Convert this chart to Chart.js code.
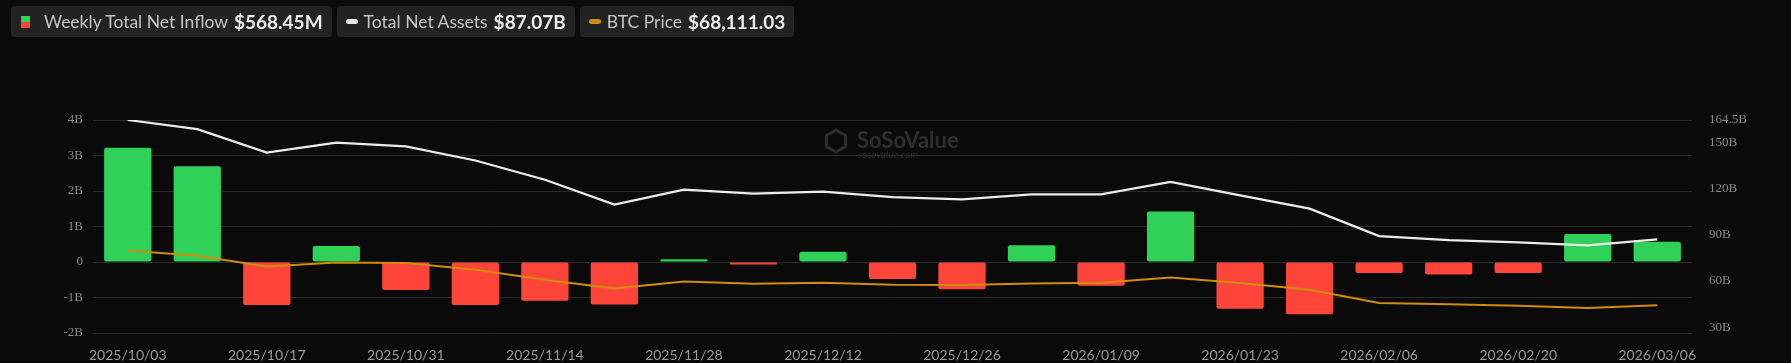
<!DOCTYPE html>
<html>
<head>
<meta charset="utf-8">
<script src="https://cdn.jsdelivr.net/npm/chart.js@4/dist/chart.umd.min.js"></script>
<style>
html, body { margin:0; padding:0; background:#0a0a0a; }
#wrap { position:relative; width:1791px; height:363px; }
#legend { position:absolute; left:11px; top:6px; display:flex; gap:5px; font-family:Lato, sans-serif; }
.item { height:31px; background:#222; border-radius:4px; padding:0 9px 0 6px; display:flex; align-items:center; white-space:nowrap; }
.item .lbl { color:#c4c4c4; font-size:17.5px; margin-right:6px; }
.item .val { color:#ececec; font-size:19px; font-weight:bold; }
.ico-flow { width:9px; height:12px; margin:0 14px 0 4px; background:linear-gradient(#30d158 50%, #ff453a 50%); }
.ico-line { width:12px; height:5px; border-radius:3px; margin:0 6px 0 3px; }
</style>
</head>
<body>
<div id="wrap">
  <canvas id="chart"></canvas>
  <div id="legend">
    <div class="item"><span class="ico-flow"></span><span class="lbl">Weekly Total Net Inflow</span><span class="val">$568.45M</span></div>
    <div class="item"><span class="ico-line" style="background:#e6e6e6"></span><span class="lbl">Total Net Assets</span><span class="val">$87.07B</span></div>
    <div class="item"><span class="ico-line" style="background:#d08c0c"></span><span class="lbl">BTC Price</span><span class="val">$68,111.03</span></div>
  </div>
</div>
<script>
// weekly dates
const weeks = ["2025/10/03","2025/10/10","2025/10/17","2025/10/24","2025/10/31","2025/11/07",
  "2025/11/14","2025/11/21","2025/11/28","2025/12/05","2025/12/12","2025/12/19","2025/12/26",
  "2026/01/02","2026/01/09","2026/01/16","2026/01/23","2026/01/30","2026/02/06","2026/02/13",
  "2026/02/20","2026/02/27","2026/03/06"];

// weekly total net inflow, billions USD
const netInflow = [3.22,2.70,-1.21,0.45,-0.79,-1.21,-1.09,-1.20,0.08,-0.07,0.29,-0.48,-0.77,
  0.47,-0.67,1.42,-1.32,-1.47,-0.31,-0.35,-0.31,0.79,0.568];

// total net assets, billions USD
const netAssets = [164.5,158.6,143.4,149.8,147.4,138.2,125.7,109.6,119.3,116.7,118.0,114.5,113.0,
  116.3,116.3,124.4,115.6,107.0,89.2,86.6,85.1,83.1,87.07];

// BTC price, USD
const btcPrice = [122300,117040,106530,110470,109820,103250,93400,84860,91760,89460,90440,88470,
  88140,89780,90440,95700,90110,83540,70410,69100,67780,65480,68111];

const leftTicks = [-2,-1,0,1,2,3,4];
const rightTicks = [30,60,90,120,150,164.5];

const green = "#30d158", red = "#ff453a";
const gridColor = "#2a2a2a";

// faint watermark in the middle of the plot
const watermark = {
  id: "watermark",
  beforeDatasetsDraw(chart) {
    const ctx = chart.ctx;
    ctx.save();
    ctx.strokeStyle = "#2c2c2c";
    ctx.lineWidth = 3;
    const cx = 836, cy = 141, r = 11;
    ctx.beginPath();
    for (let i = 0; i < 6; i++) {
      const a = Math.PI / 3 * i - Math.PI / 2;
      const px = cx + r * Math.cos(a), py = cy + r * Math.sin(a);
      if (i === 0) ctx.moveTo(px, py); else ctx.lineTo(px, py);
    }
    ctx.closePath();
    ctx.stroke();
    ctx.fillStyle = "#2e2e2e";
    ctx.font = "bold 22px Lato, sans-serif";
    ctx.textBaseline = "alphabetic";
    ctx.fillText("SoSoValue", 857, 148);
    ctx.font = "italic 10px Lato, sans-serif";
    ctx.fillText("sosovalue.com", 858, 158);
    ctx.restore();
  }
};

new Chart(document.getElementById("chart"), {
  type: "bar",
  data: {
    labels: weeks,
    datasets: [
      {
        label: "BTC Price",
        type: "line",
        data: btcPrice,
        yAxisID: "y2",
        borderColor: "#d08c0c",
        borderWidth: 2,
        pointRadius: 0,
        tension: 0,
        order: 1
      },
      {
        label: "Total Net Assets",
        type: "line",
        data: netAssets,
        yAxisID: "y1",
        borderColor: "#ececec",
        borderWidth: 2.2,
        pointRadius: 0,
        tension: 0,
        order: 2
      },
      {
        label: "Weekly Total Net Inflow",
        data: netInflow,
        yAxisID: "y",
        backgroundColor: netInflow.map(v => v >= 0 ? green : red),
        borderRadius: 2,
        borderSkipped: false,
        barPercentage: 0.68,
        categoryPercentage: 1,
        order: 3
      }
    ]
  },
  options: {
    responsive: true,
    maintainAspectRatio: false,
    animation: false,
    layout: { padding: { top: 120, bottom: 0, left: 0, right: 0 } },
    plugins: { legend: { display: false }, tooltip: { enabled: false } },
    scales: {
      x: {
        offset: true,
        grid: { display: false },
        border: { display: false },
        ticks: {
          autoSkip: false,
          maxRotation: 0,
          color: "#9a9a9a",
          font: { family: "Lato, sans-serif", size: 14 },
          padding: 6,
          callback: (v, i) => i % 2 === 0 ? weeks[i] : ""
        },
        afterFit: s => { s.height = 30; }
      },
      y: {
        position: "left",
        min: -2, max: 4,
        grid: { color: gridColor, drawTicks: false },
        border: { display: false },
        afterBuildTicks: s => { s.ticks = leftTicks.map(v => ({ value: v })); },
        ticks: {
          color: "#8a8a8a",
          padding: 10,
          font: { family: "'Liberation Serif', serif", size: 13 },
          callback: v => v === 0 ? "0" : v + "B"
        },
        afterFit: s => { s.width = 93; }
      },
      y1: {
        position: "right",
        min: 26.3, max: 164.5,
        grid: { display: false },
        border: { display: false },
        afterBuildTicks: s => { s.ticks = rightTicks.map(v => ({ value: v })); },
        ticks: {
          color: "#8a8a8a",
          padding: 9,
          font: { family: "'Liberation Serif', serif", size: 13 },
          callback: v => v + "B"
        },
        afterFit: s => { s.width = 99; }
      },
      y2: {
        display: false,
        min: 40850, max: 251000
      }
    }
  },
  plugins: [watermark]
});
</script>
</body>
</html>
